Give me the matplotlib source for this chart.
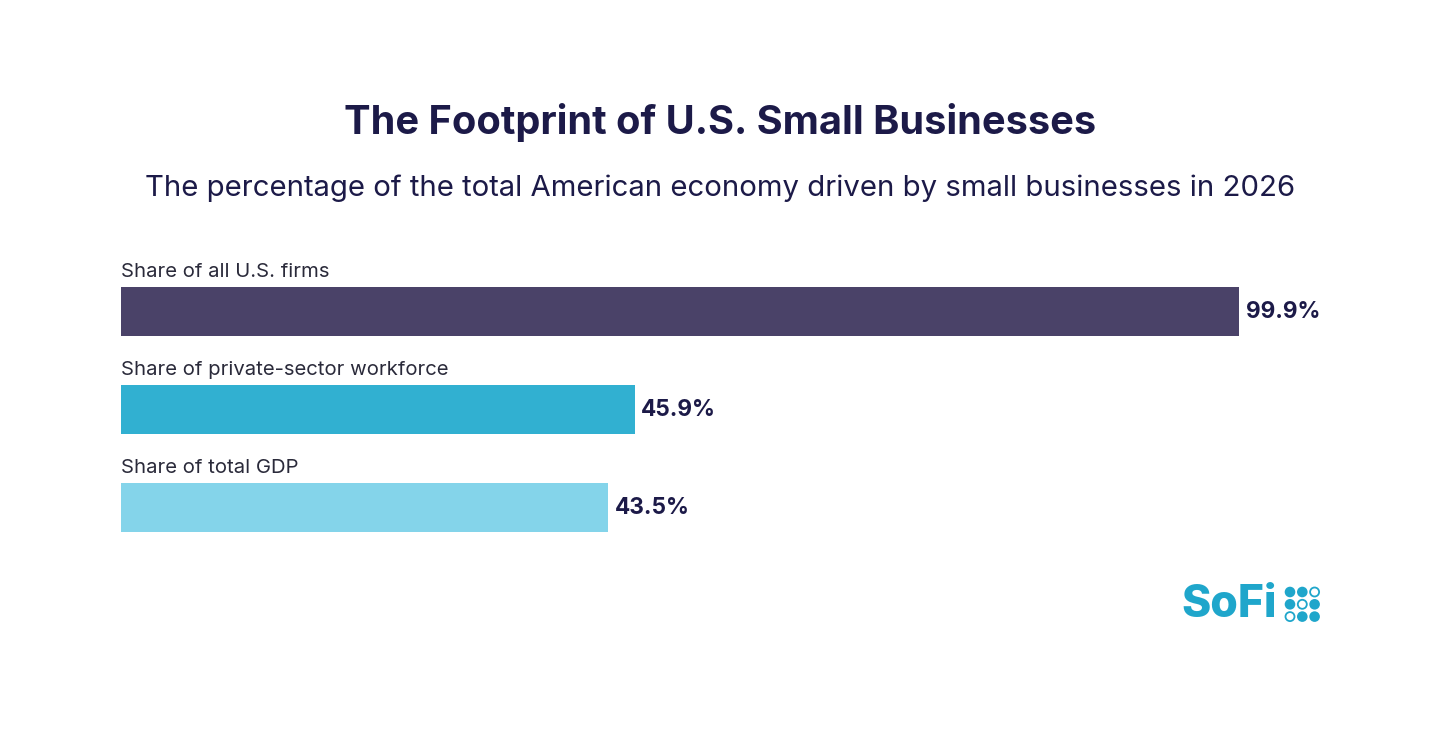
import matplotlib
matplotlib.use("Agg")
import matplotlib.pyplot as plt
from matplotlib.patches import Circle

# data
categories = ["Share of all U.S. firms", "Share of private-sector workforce", "Share of total GDP"]
values = [99.9, 45.9, 43.5]
value_labels = ["99.9%", "45.9%", "43.5%"]
bar_colors = ["#4a4268", "#31b0d1", "#84d4ea"]

title = "The Footprint of U.S. Small Businesses"
subtitle = "The percentage of the total American economy driven by small businesses in 2026"

navy = "#1c1a48"
logo_blue = "#1fa6cb"

plt.rcParams['font.family'] = ['Inter', 'DejaVu Sans']

W, H = 1440, 730
fig = plt.figure(figsize=(W / 100, H / 100), dpi=100)
fig.patch.set_facecolor("white")

# main bar axes, 0..100 spans 121px -> 1240px
ax = fig.add_axes([121 / W, 0.231, 1119 / W, 0.4497])
ypos = list(range(len(categories)))
ax.barh(ypos, values, height=0.5, color=bar_colors)
ax.set_xlim(0, 100)
ax.set_ylim(2.55, -0.8)
ax.axis("off")

for y, cat, v, lab in zip(ypos, categories, values, value_labels):
    ax.text(0, y - 0.4, cat, ha="left", va="center", fontsize=14.6, color="#2a2a3a")
    ax.text(v + 0.6, y + 0.01, lab, ha="left", va="center", fontsize=16.3,
            fontweight="bold", color=navy)

fig.text(0.5, 1 - 123 / H, title, ha="center", va="center", fontsize=28.6,
         fontweight="bold", color=navy)
fig.text(0.5, 1 - 188 / H, subtitle, ha="center", va="center", fontsize=21.1,
         color=navy)

# SoFi logo
fig.text(1181 / W, 1 - 605 / H, "SoFi", ha="left", va="center", fontsize=32,
         fontweight="heavy", color=logo_blue)
lax = fig.add_axes([0, 0, 1, 1])
lax.set_xlim(0, W)
lax.set_ylim(H, 0)
lax.axis("off")
pattern = [[1, 1, 0], [1, 0, 1], [0, 1, 1]]
for r, row in enumerate(pattern):
    for c, filled in enumerate(row):
        cx, cy = 1290 + c * 12.3, 592 + r * 12.3
        if filled:
            lax.add_patch(Circle((cx, cy), 5.3, facecolor=logo_blue, edgecolor="none"))
        else:
            lax.add_patch(Circle((cx, cy), 4.5, facecolor="white", edgecolor=logo_blue, lw=1.3))

fig.savefig("out.png", dpi=100, facecolor="white")
